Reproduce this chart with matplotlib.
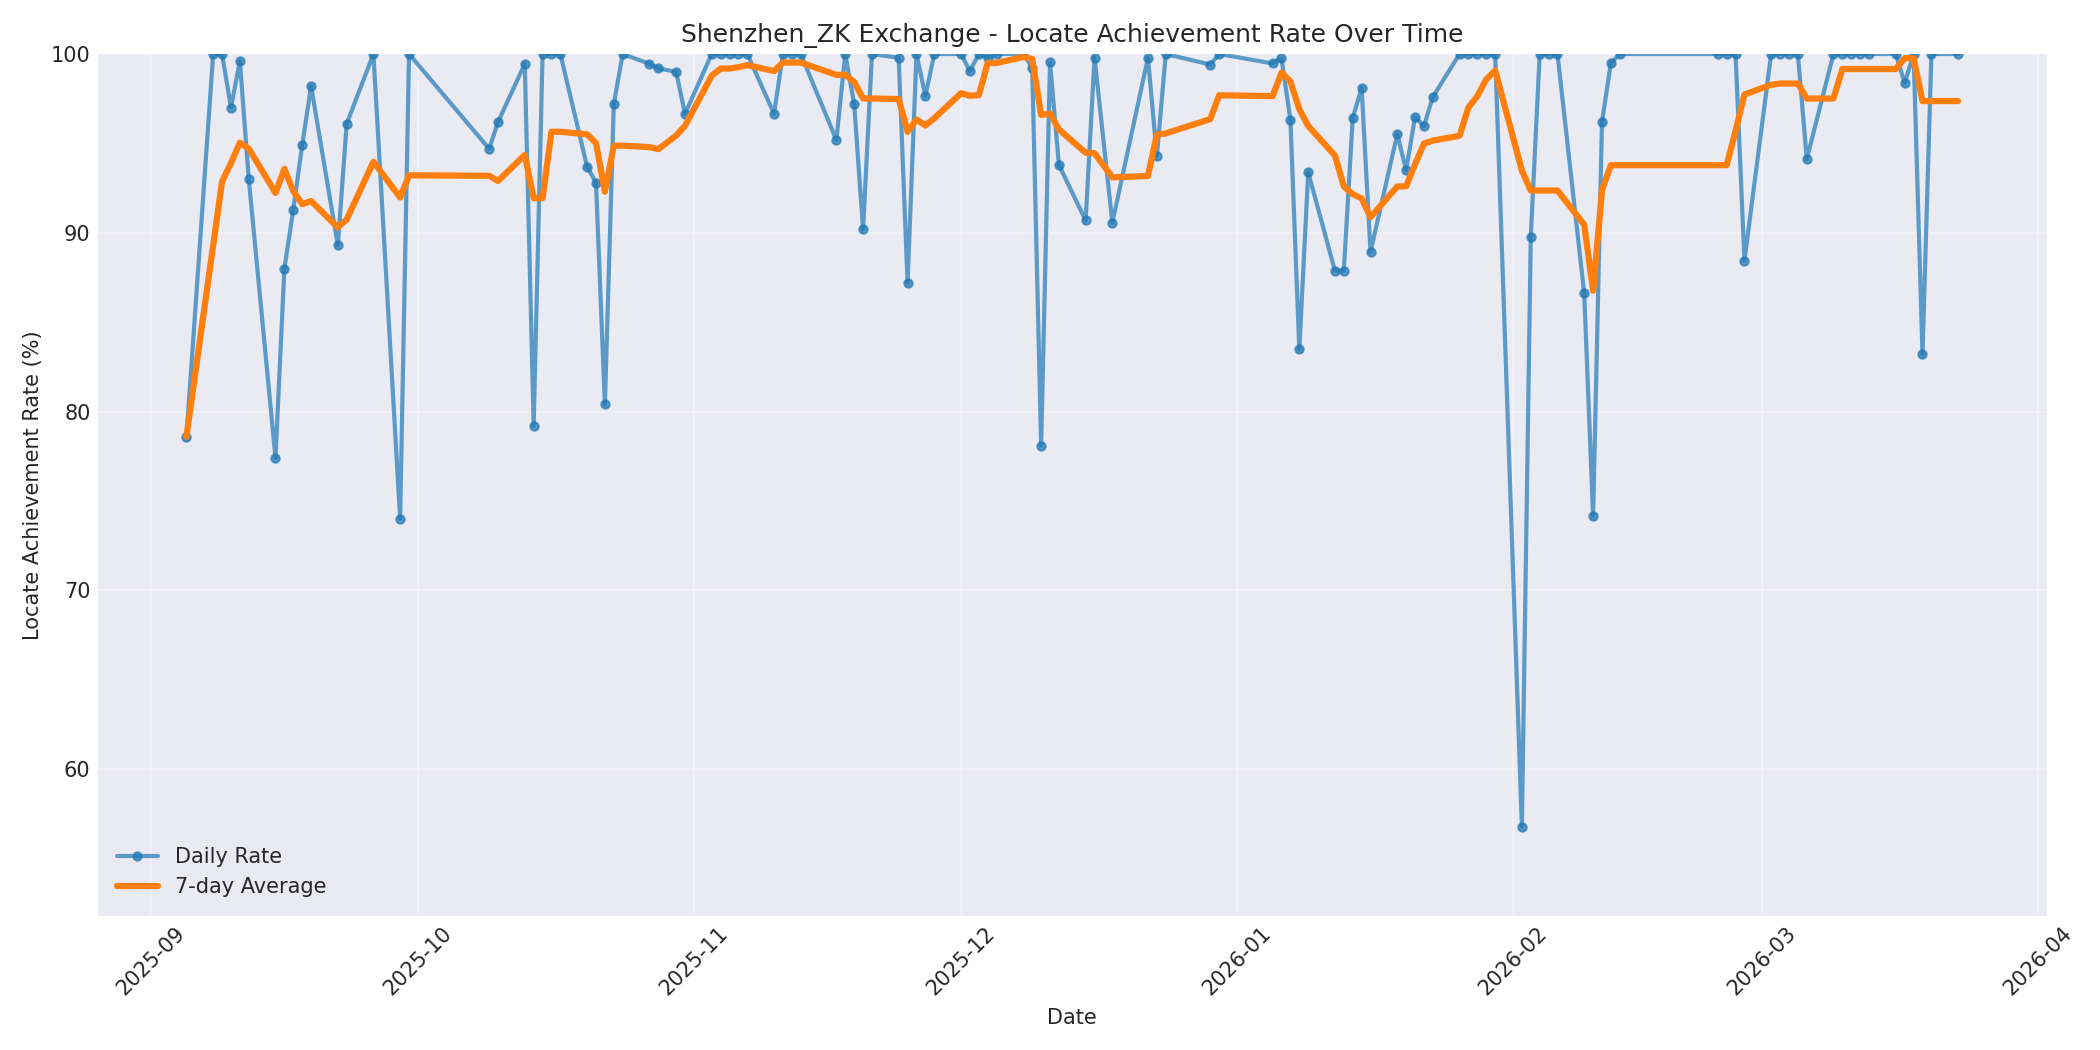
import numpy as np
import pandas as pd
import matplotlib
matplotlib.use("Agg")
import matplotlib.pyplot as plt

# daily locate achievement rate (%)
dates = [
    "2025-09-05", "2025-09-08", "2025-09-09", "2025-09-10", "2025-09-11", "2025-09-12",
    "2025-09-15", "2025-09-16", "2025-09-17", "2025-09-18", "2025-09-19",
    "2025-09-22", "2025-09-23", "2025-09-26", "2025-09-29", "2025-09-30",
    "2025-10-09", "2025-10-10", "2025-10-13", "2025-10-14", "2025-10-15", "2025-10-16", "2025-10-17",
    "2025-10-20", "2025-10-21", "2025-10-22", "2025-10-23", "2025-10-24",
    "2025-10-27", "2025-10-28", "2025-10-30", "2025-10-31",
    "2025-11-03", "2025-11-04", "2025-11-05", "2025-11-06", "2025-11-07",
    "2025-11-10", "2025-11-11", "2025-11-12", "2025-11-13",
    "2025-11-17", "2025-11-18", "2025-11-19", "2025-11-20", "2025-11-21",
    "2025-11-24", "2025-11-25", "2025-11-26", "2025-11-27", "2025-11-28",
    "2025-12-01", "2025-12-02", "2025-12-03", "2025-12-04", "2025-12-05",
    "2025-12-08", "2025-12-09", "2025-12-10", "2025-12-11", "2025-12-12",
    "2025-12-15", "2025-12-16", "2025-12-18",
    "2025-12-22", "2025-12-23", "2025-12-24", "2025-12-29", "2025-12-30",
    "2026-01-05", "2026-01-06", "2026-01-07", "2026-01-08", "2026-01-09",
    "2026-01-12", "2026-01-13", "2026-01-14", "2026-01-15", "2026-01-16",
    "2026-01-19", "2026-01-20", "2026-01-21", "2026-01-22", "2026-01-23",
    "2026-01-26", "2026-01-27", "2026-01-28", "2026-01-29", "2026-01-30",
    "2026-02-02", "2026-02-03", "2026-02-04", "2026-02-05", "2026-02-06",
    "2026-02-09", "2026-02-10", "2026-02-11", "2026-02-12", "2026-02-13",
    "2026-02-24", "2026-02-25", "2026-02-26", "2026-02-27",
    "2026-03-02", "2026-03-03", "2026-03-04", "2026-03-05", "2026-03-06",
    "2026-03-09", "2026-03-10", "2026-03-11", "2026-03-12", "2026-03-13",
    "2026-03-16", "2026-03-17", "2026-03-18", "2026-03-19", "2026-03-20",
    "2026-03-23",
]
rates = [
    78.6, 100, 100, 97.0, 99.6, 93.0,
    77.4, 88.0, 91.3, 94.9, 98.2,
    89.3, 96.1, 100, 74.0, 100,
    94.7, 96.2, 99.45, 79.2, 100, 100, 100,
    93.7, 92.8, 80.4, 97.2, 100,
    99.45, 99.2, 99.0, 96.65,
    100, 100, 100, 100, 100,
    96.66, 100, 100, 100,
    95.19, 100, 97.2, 90.19, 100,
    99.79, 87.19, 100, 97.65, 100,
    100, 99.04, 100, 99.79, 100,
    100, 99.24, 78.09, 99.53, 93.79,
    90.69, 99.79, 90.56,
    99.79, 94.28, 100, 99.41, 100,
    99.47, 99.75, 96.32, 83.47, 93.38,
    87.88, 87.88, 96.42, 98.1, 88.93,
    95.51, 93.5, 96.47, 95.97, 97.6,
    100, 100, 100, 100, 100,
    56.77, 89.77, 100, 100, 100,
    86.62, 74.15, 96.2, 99.5, 100,
    100, 100, 100, 88.44,
    100, 100, 100, 100, 94.12,
    100, 100, 100, 100, 100,
    100, 98.38, 100, 83.19, 100,
    100,
]

df = pd.DataFrame({"date": pd.to_datetime(dates), "rate": rates})
df["avg7"] = df["rate"].rolling(7, min_periods=1).mean()

plt.style.use("seaborn-v0_8-darkgrid")
plt.rcParams["font.family"] = "DejaVu Sans"
fig, ax = plt.subplots(figsize=(14, 7), dpi=150)

ax.plot(df["date"], df["rate"], marker="o", markersize=4, linewidth=2,
        alpha=0.7, color="#1f77b4", label="Daily Rate")
ax.plot(df["date"], df["avg7"], linewidth=3, color="#ff7f0e", label="7-day Average")

ax.set_title("Shenzhen_ZK Exchange - Locate Achievement Rate Over Time", fontsize=12)
ax.set_xlabel("Date", fontsize=10)
ax.set_ylabel("Locate Achievement Rate (%)", fontsize=10)
ax.set_ylim(df["rate"].min() - 5, 100)
ax.grid(True, alpha=0.3)
ax.legend(loc="lower left", fontsize=10)
plt.xticks(rotation=45)

plt.tight_layout()
plt.savefig("out.png", dpi=150)
